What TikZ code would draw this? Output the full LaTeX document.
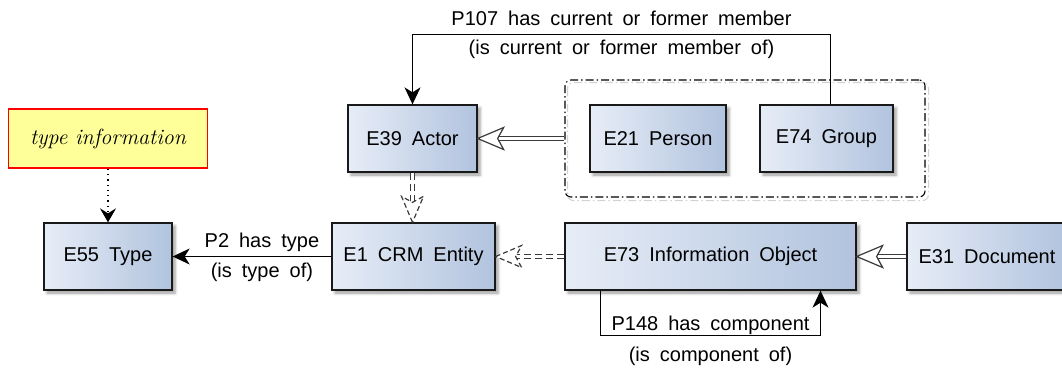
\documentclass[tikz,border=0pt]{standalone}
\usepackage{fontspec}
\setsansfont{Liberation Sans}[WordSpace=1.8]
\usetikzlibrary{arrows.meta,shadows.blur,calc}
\definecolor{boxl}{HTML}{E7EDF7}
\definecolor{boxr}{HTML}{B1C3DE}
\definecolor{noteyellow}{HTML}{FFFF99}
\definecolor{genc}{HTML}{3A3A3A}
\tikzset{
 entity/.style={draw=black!90, line width=1.3pt, left color=boxl, right color=boxr,
   minimum height=67pt, inner sep=0pt, font=\sffamily\fontsize{20}{24}\selectfont,
   blur shadow={shadow xshift=3pt, shadow yshift=-3pt, shadow blur radius=3pt, shadow opacity=40}},
 rel/.style={line width=1.3pt, -{Stealth[length=17pt,width=16pt,inset=5pt]}},
 lbl/.style={font=\sffamily\fontsize{20}{24}\selectfont, inner sep=3pt, text height=15pt, text depth=5pt},
 genline/.style={draw=genc, line width=1.2pt, double=white, double distance=3.5pt, shorten >=19pt},
 gendash/.style={genline, dash pattern=on 7pt off 4pt},
 gentip/.style={draw=genc, line width=1.2pt, fill=white, line join=miter},
 gentipdash/.style={gentip, dash pattern=on 5pt off 3pt},
 grpbox/.style={line width=1.1pt, dash pattern=on 8pt off 3pt on 1.5pt off 3pt, rounded corners=6pt},
}
\newcommand{\gtip}[3]{\draw[#1, shift={(#2)}, rotate=#3] (0,0) -- (-26,11) -- (-20,0) -- (-26,-11) -- cycle;}
\begin{document}
\begin{tikzpicture}[x=1pt,y=-1pt]
\useasboundingbox (0,0) rectangle (1062,370);
% group box
\node[grpbox, draw, minimum width=360pt, minimum height=117pt] (grp) at (745,138.5) {};
\draw[grpbox, draw=gray!35] ([shift={(3,3)}]grp.north west) rectangle ([shift={(3,3)}]grp.south east);
% entities
\node[entity, minimum width=128pt] (e55) at (108,256.5) {E55 Type};
\node[entity, minimum width=163pt] (e1) at (413.5,256.5) {E1 CRM Entity};
\node[entity, minimum width=129pt] (e39) at (412.5,138.5) {E39 Actor};
\node[entity, minimum width=136pt] (e21) at (658,138.5) {E21 Person};
\node[entity, minimum width=133pt] (e74) at (826.5,138.5) {E74 Group};
\node[entity, minimum width=291pt] (e73) at (710.5,256.5) {E73 Information Object};
\node[entity, minimum width=160pt] (e31) at (987,256.5) {E31 Document};
% note
\node[draw=red, fill=noteyellow, line width=1.2pt, minimum width=199pt, minimum height=59pt,
  inner sep=0pt, font=\itshape\fontsize{22}{26}\selectfont] (note) at (108,138.5) {type information};
\draw[line width=1.2pt, dash pattern=on 1.3pt off 4pt, -{Stealth[length=14pt,width=16pt,inset=5pt]}] (note) -- (e55);
% P2
\draw[rel] (e1.west) -- (e55.east)
  node[lbl, pos=0.4375, above] (p2a) {P2 has type}
  node[lbl, pos=0.4375, below=2pt] (p2b) {(is type of)};
% P107
\draw[rel] ([xshift=4pt]e74.north) -- ++(0,-70) coordinate (p107c) -- (p107c -| e39.north)
  node[lbl, midway, above] (p107a) {P107 has current or former member}
  node[lbl, midway, below=1pt] (p107b) {(is current or former member of)}
  -- (e39.north);
% P148
\coordinate (p148l) at ([xshift=-110pt]e73.south);
\coordinate (p148r) at ([xshift=110pt]e73.south);
\draw[rel] (p148l) -- ++(0,45) coordinate (p148c) -- (p148c -| p148r)
  node[lbl, midway, above, yshift=-3pt] (p148a) {P148 has component}
  node[lbl, midway, below=2pt, yshift=-5pt] (p148b) {(is component of)}
  -- (p148r);
% generalisations
\draw[genline] (grp.west) -- (e39.east);
\gtip{gentip}{e39.east}{180}
\draw[gendash] (e39.south) -- (e39.south |- e1.north);
\gtip{gentipdash}{e39.south |- e1.north}{-90}
\draw[gendash] (e73.west) -- (e1.east);
\gtip{gentipdash}{e1.east}{180}
\draw[genline] (e31.west) -- (e73.east);
\gtip{gentip}{e73.east}{180}
\end{tikzpicture}
\end{document}
